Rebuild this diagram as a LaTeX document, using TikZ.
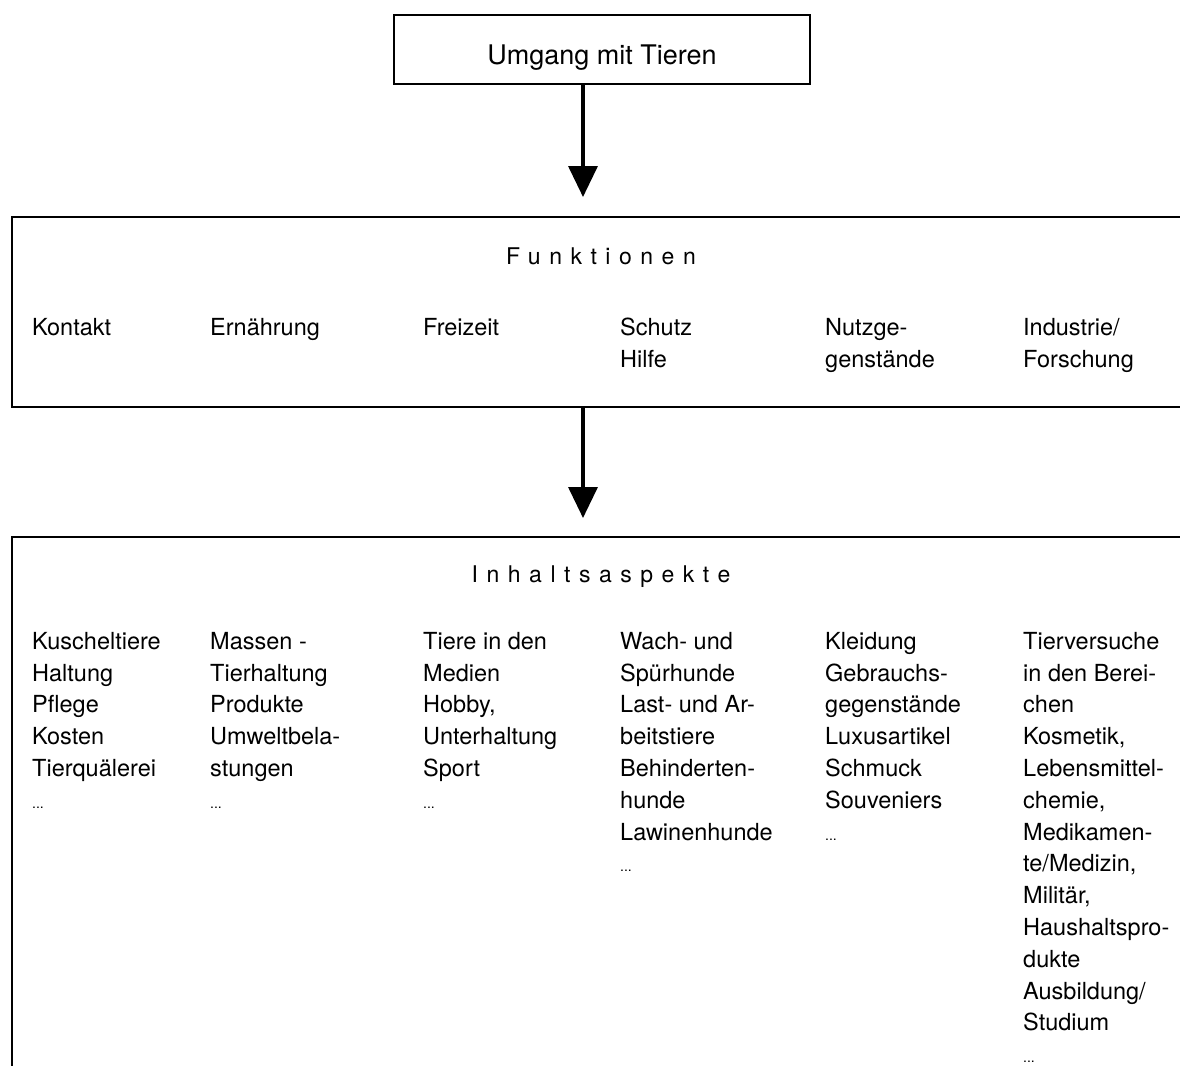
\documentclass[tikz,border=0pt]{standalone}
\usepackage{fontspec}
\setmainfont{TeX Gyre Heros}
\newfontfamily\spacedfont[LetterSpace=37]{TeX Gyre Heros}
\usetikzlibrary{arrows.meta}

\newcommand{\etc}{{\fontsize{14}{14}\selectfont ...}}

\tikzset{
    box/.style={draw, line width=1.4pt, inner sep=0pt},
    heading/.style={inner sep=0pt, font=\spacedfont\fontsize{23}{28}\selectfont},
    item/.style={anchor=north west, align=left, inner sep=0pt, font=\fontsize{23.5}{31.8}\selectfont},
    flow/.style={line width=3.5pt, -{Triangle[length=31pt,width=29pt]}}
}

\begin{document}
\begin{tikzpicture}[x=1pt,y=-1pt]
            \useasboundingbox (0,0) rectangle (1180,1065);
            \clip (0,0) rectangle (1180,1065);

            % the topic
            \node[box, minimum width=416pt, minimum height=69pt, text height=29pt, text depth=0pt, font=\fontsize{27}{30}\selectfont] (umgang) at (602,49.5) {Umgang mit Tieren};

            % the two wide frames (cut at the right and at the bottom)
            \node[box, minimum width=1188pt, minimum height=190pt] (funk) at (606,312) {};
            \node[box, minimum width=1188pt, minimum height=563pt] (inhalt) at (606,818.5) {};

            % arrows
            \coordinate (tip1) at (583,197);
            \coordinate (tip2) at (583,518);
            \draw[flow] (umgang.south -| tip1) -- (tip1);
            \draw[flow] (funk.south -| tip2) -- (tip2);

            % Funktionen
            \node[heading] (funkhead) at (601,256) {Funktionen};
            \node[item] (kontakt) at (32,318) {Kontakt};
            \node[item] (ernaehrung) at (210,318) {Ernährung};
            \node[item] (freizeit) at (423,318) {Freizeit};
            \node[item] (schutz) at (620,318) {Schutz\\Hilfe};
            \node[item] (nutz) at (825,318) {Nutzge-\\genstände};
            \node[item] (industrie) at (1023,318) {Industrie/\\Forschung};

            % Inhaltsaspekte
            \node[heading] (inhalthead) at (601,577) {Inhaltsaspekte};
            \node[item] (kuschel) at (32,632) {Kuscheltiere\\Haltung\\Pflege\\Kosten\\Tierquälerei\\\etc};
            \node[item] (massen) at (210,632) {Massen -\\Tierhaltung\\Produkte\\Umweltbela-\\stungen\\\etc};
            \node[item] (medien) at (423,632) {Tiere in den\\Medien\\Hobby,\\Unterhaltung\\Sport\\\etc};
            \node[item] (hunde) at (620,632) {Wach- und\\Spürhunde\\Last- und Ar-\\beitstiere\\Behinderten-\\hunde\\Lawinenhunde\\\etc};
            \node[item] (kleidung) at (825,632) {Kleidung\\Gebrauchs-\\gegenstände\\Luxusartikel\\Schmuck\\Souveniers\\\etc};
            \node[item] (versuche) at (1023,632) {Tierversuche\\in den Berei-\\chen\\Kosmetik,\\Lebensmittel-\\chemie,\\Medikamen-\\te/Medizin,\\Militär,\\Haushaltspro-\\dukte\\Ausbildung/\\Studium\\\etc};

        \end{tikzpicture}
\end{document}
